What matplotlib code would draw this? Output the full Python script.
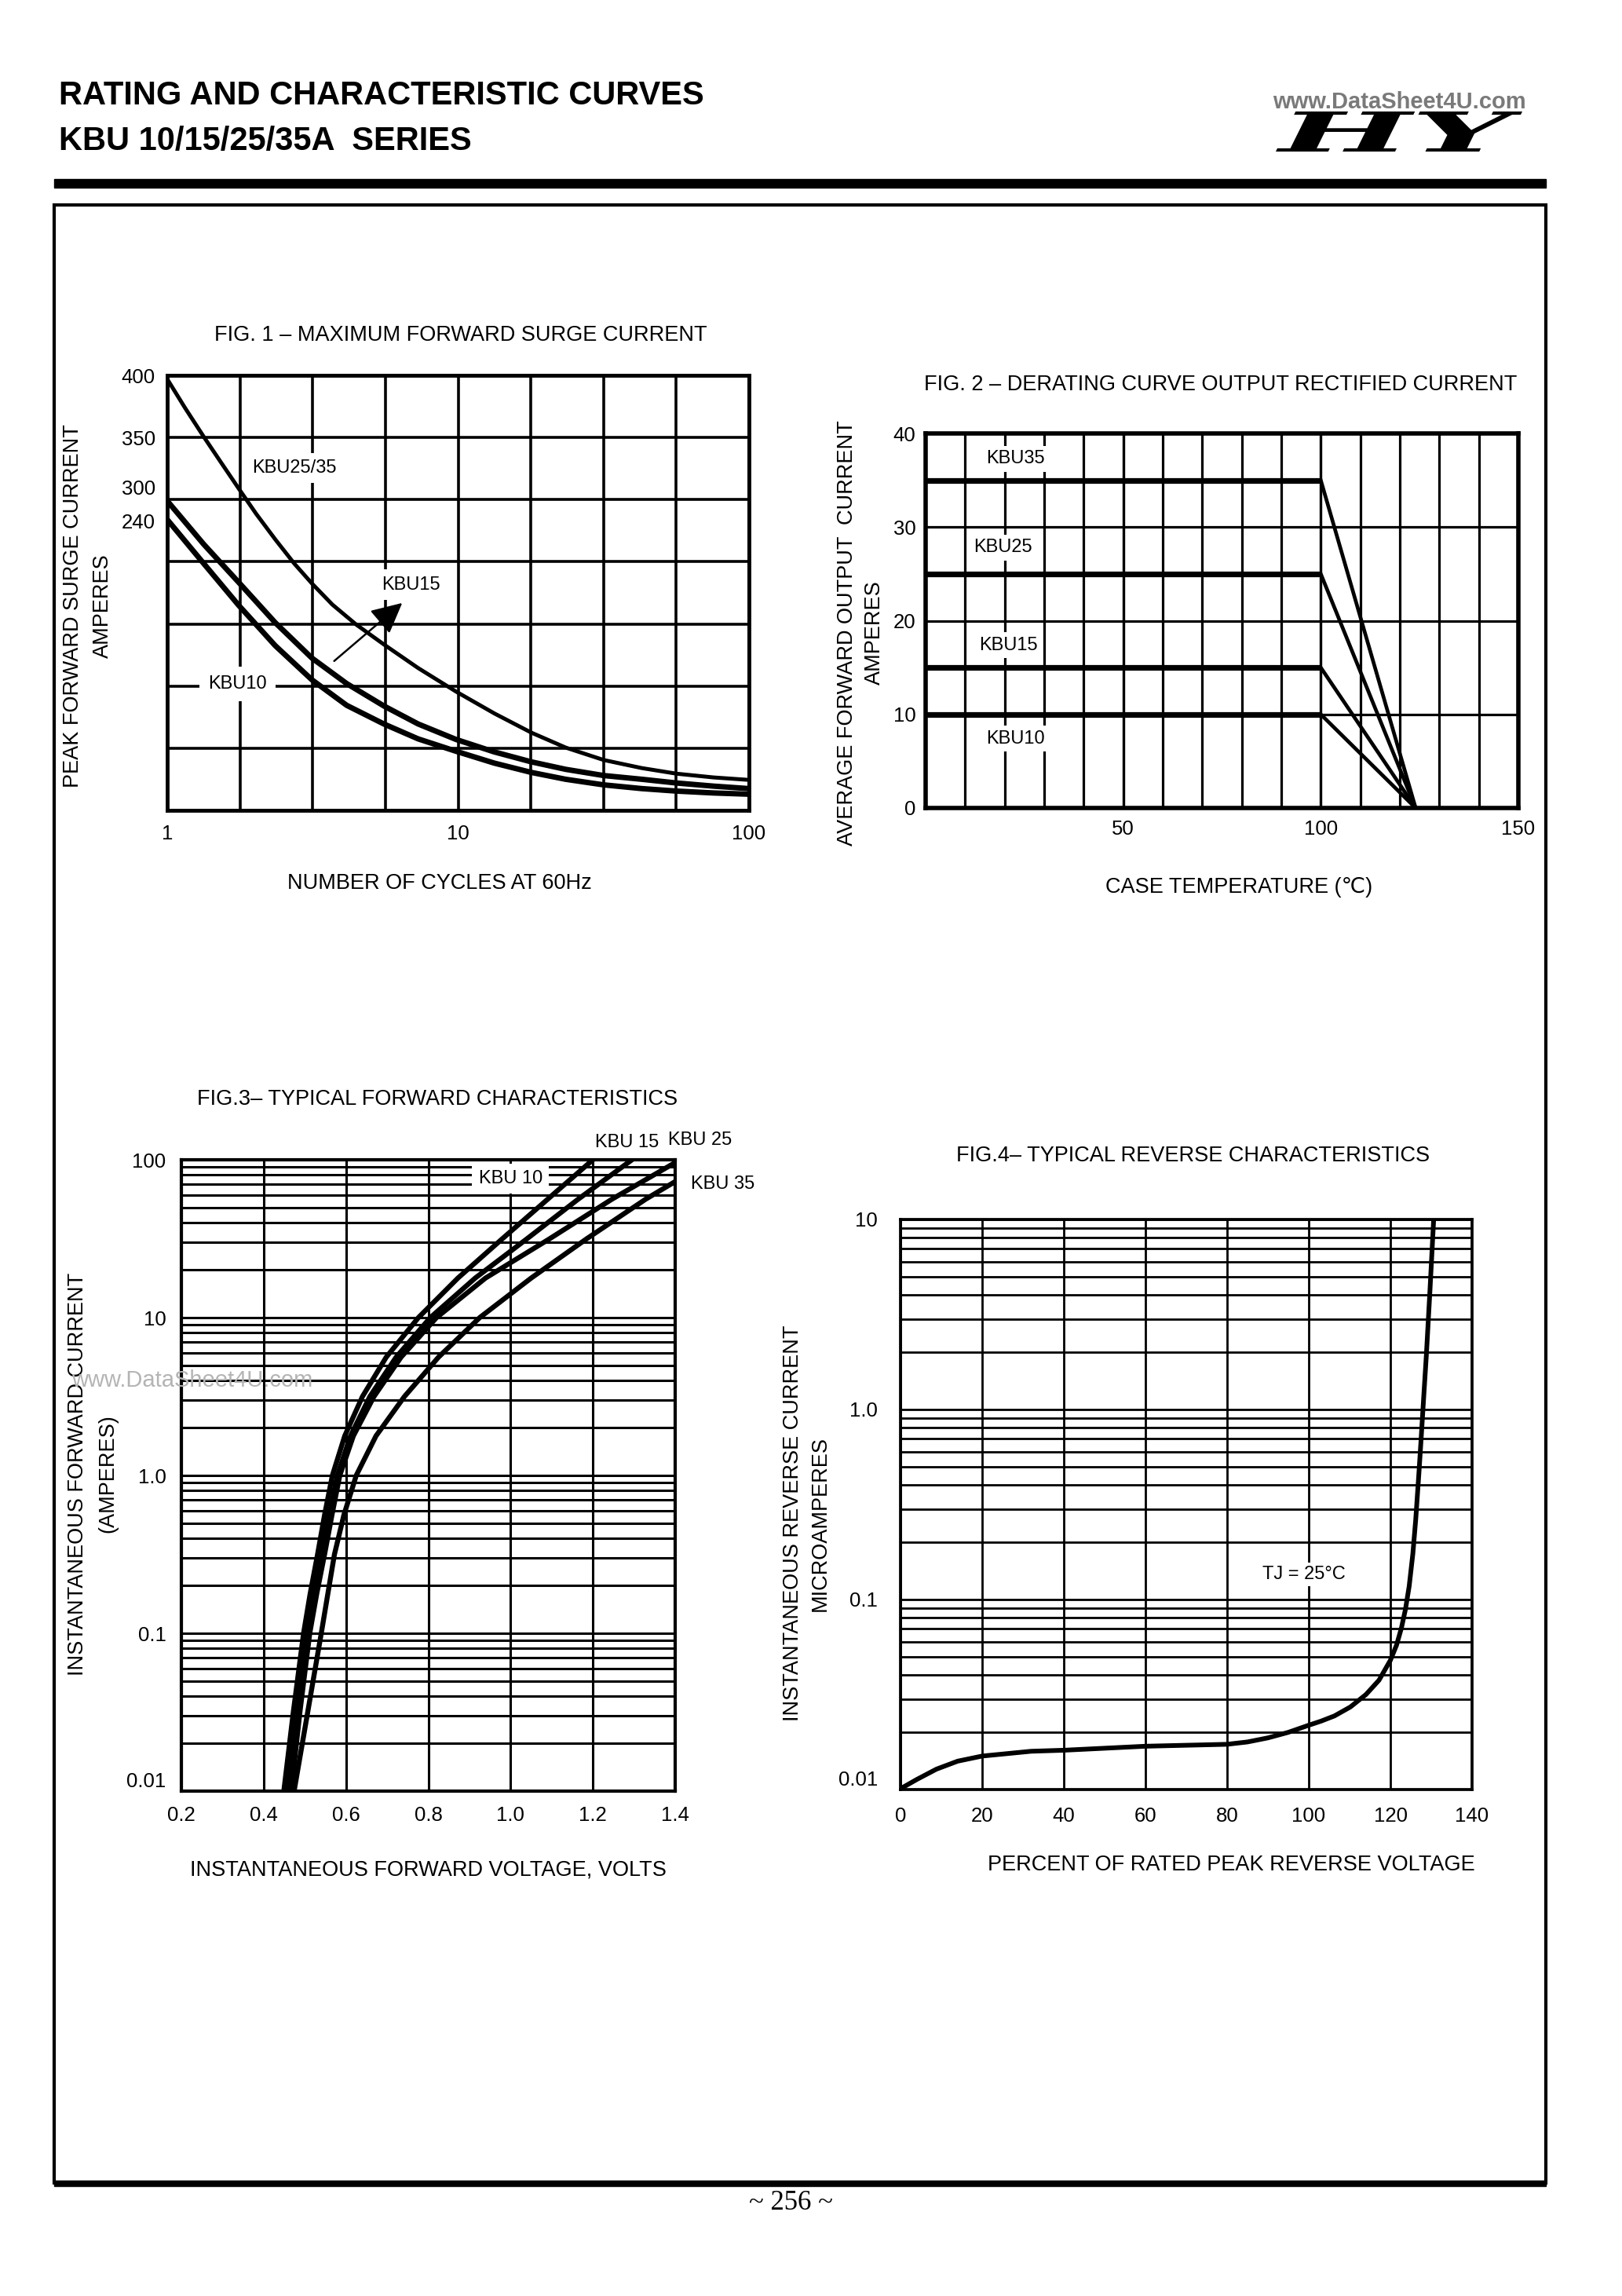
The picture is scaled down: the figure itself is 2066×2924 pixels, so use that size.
import matplotlib
matplotlib.use('Agg')
import matplotlib.pyplot as plt
from matplotlib.patches import Rectangle, PathPatch
from matplotlib.textpath import TextPath
from matplotlib.font_manager import FontProperties
from matplotlib.transforms import Affine2D

plt.rcParams['font.family'] = ['Liberation Sans', 'DejaVu Sans']

# ---- FIG 1: surge current (y in chart divisions, 7 = 400 A) ----
surge_cycles = [1, 1.150, 1.336, 1.525, 1.760, 2.023, 2.352, 2.735, 3.145, 3.698, 4.463,
                5.556, 7.288, 9.85, 13.32, 17.87, 23.44, 31.68, 42.83, 56.39, 75.4, 100]
surge_kbu2535 = [6.94, 6.48, 6.01, 5.61, 5.18, 4.77, 4.36, 3.97, 3.65, 3.31, 2.99,
                 2.67, 2.29, 1.91, 1.56, 1.25, 1.01, 0.81, 0.68, 0.59, 0.53, 0.49]
surge_cycles_b = [1, 1.336, 1.760, 2.352, 3.145, 4.14, 5.556, 7.288, 9.85, 13.32, 17.87,
                  23.44, 31.68, 42.83, 56.39, 75.4, 100]
surge_kbu15 = [4.98, 4.28, 3.67, 3.02, 2.45, 2.04, 1.68, 1.39, 1.14, 0.94, 0.78,
               0.66, 0.56, 0.50, 0.44, 0.39, 0.35]
surge_kbu10 = [4.68, 3.97, 3.30, 2.65, 2.10, 1.69, 1.39, 1.15, 0.95, 0.76, 0.61,
               0.50, 0.41, 0.35, 0.31, 0.28, 0.26]
surge_tick_pos = [7, 6, 5.2, 4.65]
surge_tick_lab = ['400', '350', '300', '240']

# ---- FIG 2: derating ----
derate_temp = [0, 100, 124]
derate_kbu35 = [35, 35, 0]
derate_kbu25 = [25, 25, 0]
derate_kbu15 = [15, 15, 0]
derate_kbu10 = [10, 10, 0]

# ---- FIG 3: forward characteristics ----
fwd_i = [0.01, 0.0316, 0.1, 0.178, 0.316, 0.562, 1.0, 1.78, 3.16, 5.62, 10, 17.8, 31.6, 56.2, 100]
fwd_v_kbu15 = [0.449, 0.472, 0.497, 0.513, 0.531, 0.548, 0.567, 0.597, 0.640, 0.698,
               0.776, 0.872, 0.980, 1.090, 1.200]
fwd_v_kbu25 = [0.457, 0.480, 0.505, 0.521, 0.540, 0.559, 0.579, 0.611, 0.658, 0.722,
               0.805, 0.914, 1.040, 1.164, 1.295]
fwd_i_kbu10 = fwd_i[:-1] + [95]
fwd_v_kbu10 = [0.467, 0.488, 0.512, 0.529, 0.548, 0.566, 0.585, 0.618, 0.668, 0.734,
               0.820, 0.939, 1.095, 1.246, 1.397]
fwd_i_kbu35 = fwd_i[:-1] + [72]
fwd_v_kbu35 = [0.474, 0.507, 0.540, 0.556, 0.572, 0.595, 0.625, 0.673, 0.742, 0.825,
               0.925, 1.050, 1.185, 1.328, 1.397]

# ---- FIG 4: reverse characteristics ----
rev_pct = [0, 4, 8.8, 14, 20, 32, 40, 60, 70, 80, 85, 90, 95, 100, 103, 106.3, 110.2, 114,
           117.2, 120, 121.5, 122.7, 123.7, 124.6, 125.5, 126.2, 127, 127.5, 128.2, 128.8,
           129.7, 130.6]
rev_ua = [0.0101, 0.0113, 0.0128, 0.0141, 0.0150, 0.0159, 0.0161, 0.0169, 0.0171, 0.0173,
          0.0178, 0.0187, 0.0200, 0.0218, 0.0229, 0.0244, 0.0272, 0.0316, 0.0376, 0.0479,
          0.0575, 0.0708, 0.0891, 0.1175, 0.174, 0.263, 0.468, 0.687, 1.20, 1.92, 4.27, 10.0]

W, H = 2066, 2924
fig = plt.figure(figsize=(W / 100, H / 100), dpi=100)


def box(l, t, r, b):
    return [l / W, 1 - b / H, (r - l) / W, (b - t) / H]


def put(x, y, s, **kw):
    kw.setdefault('ha', 'center')
    kw.setdefault('va', 'center')
    fig.text(x / W, 1 - y / H, s, **kw)


def style(ax, grid_lw, spine_lw):
    for sp in ax.spines.values():
        sp.set_linewidth(spine_lw)
    ax.tick_params(which='both', length=0, labelsize=18.5)
    ax.grid(True, which='both', color='k', lw=grid_lw)
    ax.set_axisbelow(True)


def gap(p):
    return dict(facecolor='white', edgecolor='none', pad=p)


LBL = 19.5
ANN = 17

# page header
put(75, 122, 'RATING AND CHARACTERISTIC CURVES', ha='left', fontsize=30, weight='bold')
put(75, 180, 'KBU 10/15/25/35A  SERIES', ha='left', fontsize=30, weight='bold')
fig.add_artist(Rectangle((69 / W, 1 - 239 / H), 1900 / W, 11 / H, color='k',
                         transform=fig.transFigure))
fig.add_artist(Rectangle((69 / W, 1 - 2780 / H), 1900 / W, (2780 - 261) / H, fill=False,
                         lw=3, ec='k', transform=fig.transFigure))
fig.add_artist(Rectangle((69 / W, 1 - 2784 / H), 1900 / W, 7 / H, color='k',
                         transform=fig.transFigure))
put(1007, 2806, '~ 256 ~', fontsize=25, family='Liberation Serif')

# logo
lax = fig.add_axes(box(1600, 120, 1960, 200))
lax.set_xlim(1600, 1960)
lax.set_ylim(H - 200, H - 120)
lax.axis('off')
tp = TextPath((0, 0), 'HY', size=100,
              prop=FontProperties(family='DejaVu Serif', weight='bold', style='italic'))
ext = tp.get_extents()
tr = Affine2D().translate(-ext.x0, -ext.y0).scale(314 / ext.width, 51 / ext.height).translate(1625, H - 193)
lax.add_patch(PathPatch(tr.transform_path(tp), fc='k', ec='none'))
put(1782, 130, 'www.DataSheet4U.com', fontsize=21, color='#7a7a7a', weight='bold', zorder=10)

# ---------------- FIG 1 ----------------
ax1 = fig.add_axes(box(213, 478, 954, 1032))
ax1.set_xscale('log')
ax1.set_xlim(1, 100)
ax1.set_ylim(0, 7)
ax1.set_xticks([1, 10, 100])
ax1.set_xticklabels(['1', '10', '100'])
ax1.set_xticks([10 ** (k / 4) for k in range(1, 8) if k != 4], minor=True)
ax1.set_xticklabels([], minor=True)
ax1.set_yticks(surge_tick_pos)
ax1.set_yticklabels(surge_tick_lab)
ax1.set_yticks(range(8), minor=True)
ax1.yaxis.remove_overlapping_locs = False
style(ax1, 2.6, 3.5)
ax1.yaxis.grid(False, which='major')
ax1.tick_params(axis='x', pad=13)
ax1.tick_params(axis='y', pad=11)
ax1.plot(surge_cycles, surge_kbu2535, color='k', lw=3.6, solid_joinstyle='round')
ax1.plot(surge_cycles_b, surge_kbu15, color='k', lw=5, solid_joinstyle='round')
ax1.plot(surge_cycles_b, surge_kbu10, color='k', lw=5, solid_joinstyle='round')
ax1.text(2.74, 5.51, 'KBU25/35', fontsize=ANN, ha='center', va='center', bbox=gap(6))
ax1.text(6.89, 3.63, 'KBU15', fontsize=ANN, ha='center', va='center', bbox=gap(6))
ax1.text(1.74, 2.03, 'KBU10', fontsize=ANN, ha='center', va='center', bbox=gap(8))
ax1.annotate('', xy=(6.51, 3.36), xytext=(3.70, 2.38),
             arrowprops=dict(arrowstyle='-|>,head_length=0.6,head_width=0.3', color='k',
                             lw=1.8, mutation_scale=40))
put(587, 427, 'FIG. 1 – MAXIMUM FORWARD SURGE CURRENT', fontsize=LBL)
put(560, 1125, 'NUMBER OF CYCLES AT 60Hz', fontsize=LBL)
put(93, 772, 'PEAK FORWARD SURGE CURRENT', fontsize=LBL, rotation=90)
put(131, 772, 'AMPERES', fontsize=LBL, rotation=90)

# ---------------- FIG 2 ----------------
ax2 = fig.add_axes(box(1179, 552, 1934, 1029))
ax2.set_xlim(0, 150)
ax2.set_ylim(0, 40)
ax2.set_xticks([50, 100, 150])
ax2.set_xticks(range(10, 150, 10), minor=True)
ax2.xaxis.remove_overlapping_locs = False
ax2.set_yticks([0, 10, 20, 30, 40])
style(ax2, 2.3, 4)
ax2.tick_params(axis='x', pad=11)
ax2.tick_params(axis='y', pad=9)
for vals in (derate_kbu35, derate_kbu25, derate_kbu15, derate_kbu10):
    ax2.plot(derate_temp[:2], vals[:2], color='k', lw=5.2, solid_capstyle='butt')
    ax2.plot(derate_temp[1:], vals[1:], color='k', lw=3.4)
ax2.text(22.8, 37.3, 'KBU35', fontsize=ANN, ha='center', va='center', bbox=gap(4))
ax2.text(19.6, 27.8, 'KBU25', fontsize=ANN, ha='center', va='center', bbox=gap(4))
ax2.text(21.0, 17.4, 'KBU15', fontsize=ANN, ha='center', va='center', bbox=gap(4))
ax2.text(22.8, 7.4, 'KBU10', fontsize=ANN, ha='center', va='center', bbox=gap(4))
put(1555, 490, 'FIG. 2 – DERATING CURVE OUTPUT RECTIFIED CURRENT', fontsize=LBL)
put(1578, 1130, 'CASE TEMPERATURE (℃)', fontsize=LBL)
put(1079, 806, 'AVERAGE FORWARD OUTPUT  CURRENT', fontsize=LBL, rotation=90)
put(1114, 806, 'AMPERES', fontsize=LBL, rotation=90)

# ---------------- FIG 3 ----------------
ax3 = fig.add_axes(box(231, 1477, 860, 2281))
ax3.set_yscale('log')
ax3.set_xlim(0.2, 1.4)
ax3.set_ylim(0.01, 100)
ax3.set_xticks([0.2, 0.4, 0.6, 0.8, 1.0, 1.2, 1.4])
ax3.set_xticklabels(['0.2', '0.4', '0.6', '0.8', '1.0', '1.2', '1.4'])
ax3.set_yticks([0.01, 0.1, 1, 10, 100])
ax3.set_yticklabels(['0.01', '0.1', '1.0', '10', '100'])
ax3.get_yticklabels()[0].set_va('bottom')
ax3.yaxis.set_minor_formatter(plt.NullFormatter())
style(ax3, 2.2, 3)
ax3.tick_params(axis='x', pad=14)
ax3.tick_params(axis='y', pad=14)
for v, i in ((fwd_v_kbu15, fwd_i), (fwd_v_kbu25, fwd_i),
             (fwd_v_kbu10, fwd_i_kbu10), (fwd_v_kbu35, fwd_i_kbu35)):
    ax3.plot(v, i, color='k', lw=4.6, solid_joinstyle='round')
ax3.text(1.282, 128, 'KBU 15', fontsize=ANN, ha='center', va='center')
ax3.text(1.461, 133, 'KBU 25', fontsize=ANN, ha='center', va='center')
ax3.text(1.515, 70, 'KBU 35', fontsize=ANN, ha='center', va='center')
ax3.text(1.0, 76, 'KBU 10', fontsize=ANN, ha='center', va='center', bbox=gap(6))
put(557, 1400, 'FIG.3– TYPICAL FORWARD CHARACTERISTICS', fontsize=LBL)
put(545, 2381, 'INSTANTANEOUS FORWARD VOLTAGE, VOLTS', fontsize=LBL)
put(99, 1877, 'INSTANTANEOUS FORWARD CURRENT', fontsize=LBL, rotation=90)
put(137, 1877, '(AMPERES)', fontsize=LBL, rotation=90)
put(245, 1758, 'www.DataSheet4U.com', fontsize=21, color='#b4b4b4', zorder=10)

# ---------------- FIG 4 ----------------
ax4 = fig.add_axes(box(1147, 1553, 1875, 2279))
ax4.set_yscale('log')
ax4.set_xlim(0, 140)
ax4.set_ylim(0.01, 10)
ax4.set_xticks(range(0, 141, 20))
ax4.set_yticks([0.01, 0.1, 1, 10])
ax4.set_yticklabels(['0.01', '0.1', '1.0', '10'])
ax4.get_yticklabels()[0].set_va('bottom')
ax4.yaxis.set_minor_formatter(plt.NullFormatter())
style(ax4, 2.0, 2.7)
ax4.tick_params(axis='x', pad=16)
ax4.tick_params(axis='y', pad=21)
ax4.plot(rev_pct, rev_ua, color='k', lw=4.3, solid_joinstyle='round')
ax4.text(98.8, 0.1355, 'TJ = 25°C', fontsize=ANN, ha='center', va='center', bbox=gap(3))
put(1520, 1472, 'FIG.4– TYPICAL REVERSE CHARACTERISTICS', fontsize=LBL)
put(1568, 2375, 'PERCENT OF RATED PEAK REVERSE VOLTAGE', fontsize=LBL)
put(1010, 1940, 'INSTANTANEOUS REVERSE CURRENT', fontsize=LBL, rotation=90)
put(1045, 1940, 'MICROAMPERES', fontsize=LBL, rotation=90)

fig.savefig('out.png', dpi=100, facecolor='white')
